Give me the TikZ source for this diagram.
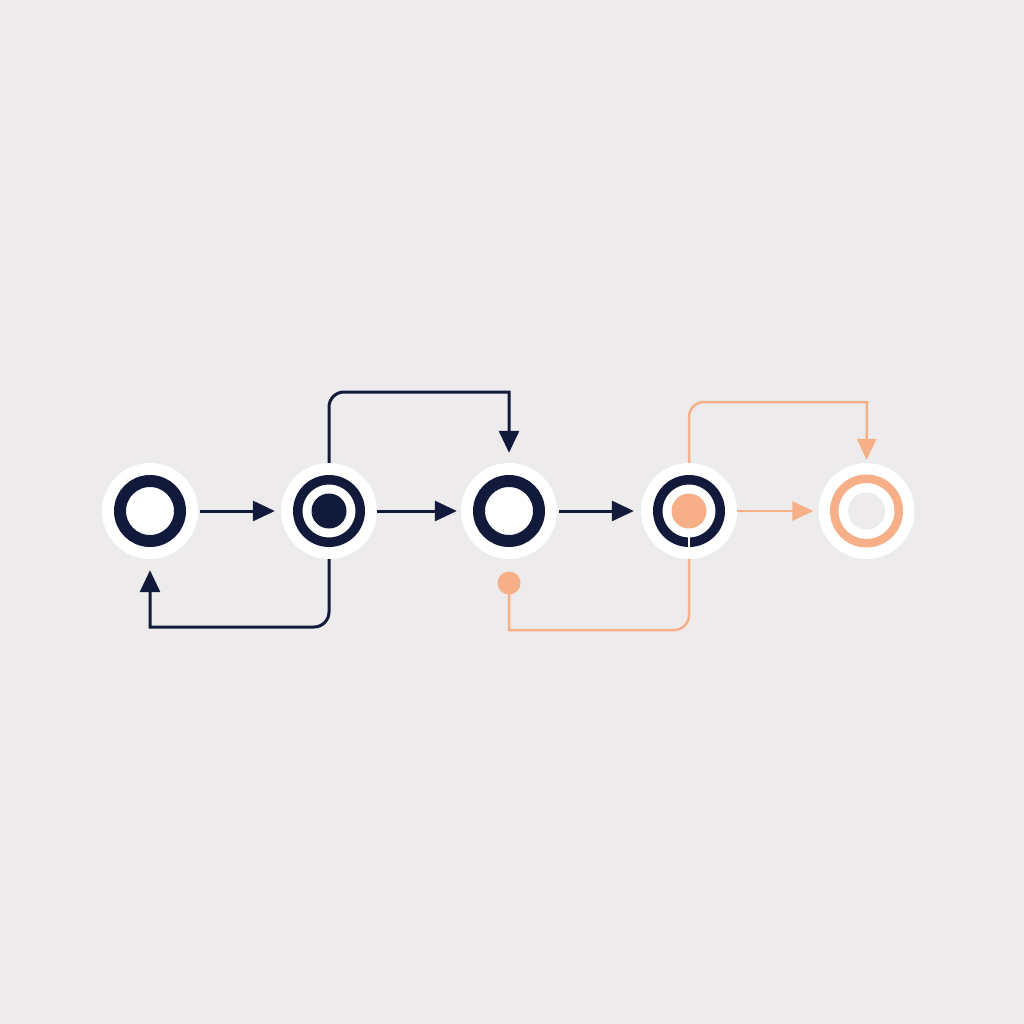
\documentclass[tikz,border=0pt]{standalone}
\usetikzlibrary{arrows.meta}
\definecolor{bg}{HTML}{EDEBEB}
\definecolor{navy}{HTML}{121A3C}
\definecolor{peach}{HTML}{F7AF87}
\tikzset{
  disk/.style={circle,fill=white,inner sep=0pt,minimum size=96pt},
  navyline/.style={draw=navy,line width=3pt,-{Triangle[length=22pt,width=20pt]}},
  peachline/.style={draw=peach,line width=2.5pt,-{Triangle[length=21pt,width=19pt]}},
}
\begin{document}
\begin{tikzpicture}[x=1pt,y=-1pt]
\fill[bg] (0,0) rectangle (1024,1024);
\useasboundingbox (0,0) rectangle (1024,1024);
% nodes
\node[disk] (n1) at (150,511) {};
\node[disk] (n2) at (329,511) {};
\node[disk] (n3) at (509,511) {};
\node[disk] (n4) at (689,511) {};
\node[disk] (n5) at (866.5,511) {};
% node decorations
\draw[navy,line width=12pt] (n1.center) circle (30);
\draw[navy,line width=9.5pt] (n2.center) circle (31.25);
\fill[navy] (n2.center) circle (17.5);
\draw[navy,line width=12pt] (n3.center) circle (30);
\draw[navy,line width=9.5pt] (n4.center) circle (31.25);
\fill[peach] (n4.center) circle (17.5);
\draw[white,line width=2pt] ([shift={(0,25)}]n4.center) -- ([shift={(0,37)}]n4.center);
\draw[peach,line width=8.5pt] (n5.center) circle (32.25);
\fill[bg] (n5.center) circle (18.5);
% orange dot
\node[circle,fill=peach,inner sep=0pt,minimum size=23pt] (d) at (509,583) {};
% coordinates
\coordinate (c1) at (329,392);
\coordinate (t1) at (509,392);
\coordinate (c2) at (329,627);
\coordinate (b1) at (150,627);
\coordinate (c3) at (689,402);
\coordinate (t2) at (867,402);
\coordinate (c4) at (689,630);
\coordinate (b2) at (509,630);
% straight arrows
\draw[navyline,shorten <=2pt,shorten >=6pt] (n1.east) -- (n2.west);
\draw[navyline,shorten <=0pt,shorten >=4pt] (n2.east) -- (n3.west);
\draw[navyline,shorten <=2pt,shorten >=7pt] (n3.east) -- (n4.west);
\draw[peachline,shorten <=0pt,shorten >=5pt] (n4.east) -- (n5.west);
% loop connectors
\draw[navyline,shorten >=10pt] (n2.north) [rounded corners=15pt] -- (c1) [sharp corners] -- (t1) -- (n3.north);
\draw[navyline,shorten >=11pt] (n2.south) [rounded corners=15pt] -- (c2) [sharp corners] -- (b1) -- (n1.south);
\draw[peachline,shorten >=3pt] (n4.north) [rounded corners=15pt] -- (c3) [sharp corners] -- (t2) -- (n5.north);
\draw[peach,line width=2.5pt] (n4.south) [rounded corners=15pt] -- (c4) [sharp corners] -- (b2) -- (d.center);
\end{tikzpicture}
\end{document}
